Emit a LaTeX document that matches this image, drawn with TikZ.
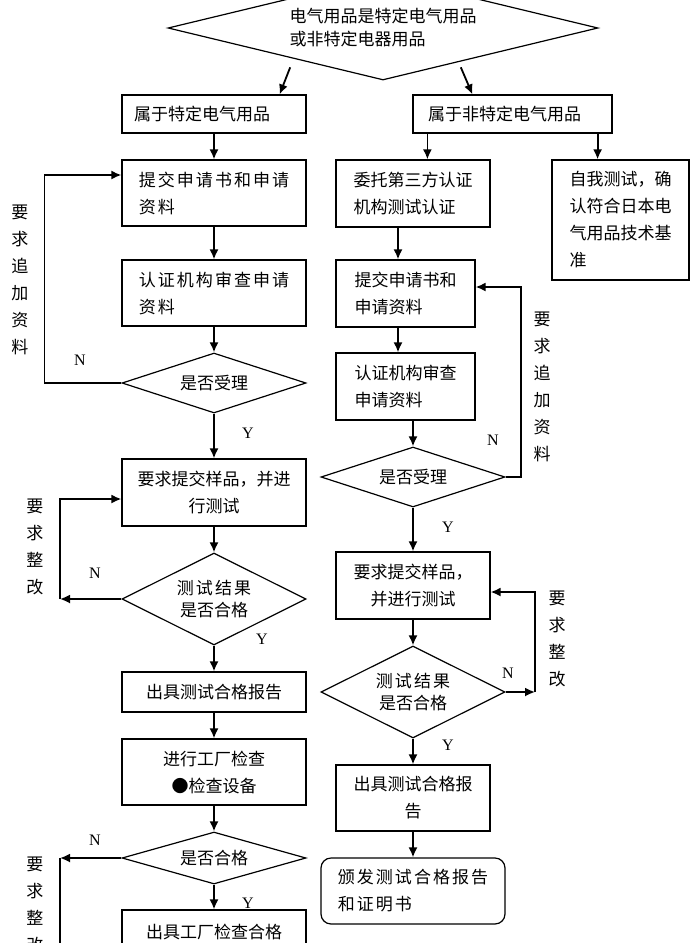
\documentclass[tikz,border=0pt]{standalone}
\usepackage{fontspec}
\setmainfont{Liberation Serif}
\newfontfamily\cjk{Noto Sans CJK SC}
\newfontfamily\cjksp[LetterSpace=12]{Noto Sans CJK SC}
\usetikzlibrary{shapes.geometric,arrows.meta}

\begin{document}
\begin{tikzpicture}[x=1pt,y=-1pt,
    box/.style={draw,line width=1.2pt,minimum width=184pt,minimum height=66pt,inner sep=0pt,align=left,font=\cjk\fontsize{17}{27}\selectfont},
    widebox/.style={box,font=\cjksp\fontsize{17}{27}\selectfont},
    decision/.style={draw,diamond,line width=1.2pt,inner sep=0pt,aspect=2,minimum width=184pt,align=center,font=\cjk\fontsize{17}{22}\selectfont},
    arr/.style={line width=1.8pt,-{Latex[length=10pt,width=9pt]}},
    fb/.style={line width=1.8pt},
    yn/.style={font=\fontsize{16}{16}\selectfont},
    vlab/.style={align=center,inner sep=0pt,font=\cjk\fontsize{17}{27}\selectfont}]
\useasboundingbox (0,0) rectangle (700,943);
\clip (0,0) rectangle (700,943);

% top decision
\node[decision,aspect=4,minimum width=430pt,minimum height=104pt,align=left,font=\cjk\fontsize{17}{23}\selectfont] (start) at (383,28) {电气用品是特定电气用品\\或非特定电器用品};
\node[box,minimum height=38pt,text width=160pt,inner xsep=12pt] (teding) at (214,114) {属于特定电气用品};
\node[box,minimum height=38pt,text width=169pt,inner xsep=15pt] (feiteding) at (512.5,114) {属于非特定电气用品};

% left column
\node[widebox] (shenqing1) at (214,193) {提交申请书和申请\\资料};
\node[widebox] (shencha1) at (214,293) {认证机构审查申请\\资料};
\node[decision,aspect=3,minimum height=60pt] (shouli1) at (214,383) {是否受理};
\node[box,minimum height=67pt,align=center] (yangpin1) at (214,492.5) {要求提交样品，并进\\行测试};
\node[decision,minimum height=92pt] (ceshi1) at (214,599) {{\cjksp 测试结果}\\是否合格};
\node[box,minimum height=40pt] (baogao1) at (214,692) {出具测试合格报告};
\node[box,align=center] (gongchang) at (214,772) {进行工厂检查\\●检查设备};
\node[decision,aspect=3,minimum height=52pt] (hege) at (214,858) {是否合格};
\node[box,minimum height=44pt] (gcbaogao) at (214,932) {出具工厂检查合格};

% right column
\node[box,minimum width=154pt,minimum height=67pt] (weituo) at (413,193.5) {委托第三方认证\\机构测试认证};
\node[box,minimum width=139pt,minimum height=67pt] (shenqing2) at (405.5,293.5) {提交申请书和\\申请资料};
\node[box,minimum width=139pt,minimum height=67pt] (shencha2) at (405.5,386.5) {认证机构审查\\申请资料};
\node[decision,aspect=3,minimum height=60pt] (shouli2) at (413,477) {是否受理};
\node[box,minimum width=137pt,minimum height=120pt] (ziwo) at (620.5,220) {自我测试，确\\认符合日本电\\气用品技术基\\准};
\node[box,minimum width=154pt,minimum height=67pt,align=center] (yangpin2) at (413,585.5) {要求提交样品，\\并进行测试};
\node[decision,minimum height=92pt] (ceshi2) at (413,692) {{\cjksp 测试结果}\\是否合格};
\node[box,minimum width=154pt,align=center] (baogao2) at (413,798) {出具测试合格报\\告};
\node[widebox,rounded corners=10pt] (zhengshu) at (413,891) {颁发测试合格报告\\和证明书};

% labels
\node[yn] (n1) at (80,360) {N};
\node[yn] (y1) at (248,433) {Y};
\node[yn] (n2) at (95,573) {N};
\node[yn] (y2) at (262,639) {Y};
\node[yn] (n3) at (95,840) {N};
\node[yn] (y3) at (248,903) {Y};
\node[yn] (n4) at (493,440) {N};
\node[yn] (y4) at (448,527) {Y};
\node[yn] (n5) at (508,673) {N};
\node[yn] (y5) at (448,745) {Y};
\node[vlab] (zhuijia1) at (20,280) {要\\求\\追\\加\\资\\料};
\node[vlab] (zhuijia2) at (542,387) {要\\求\\追\\加\\资\\料};
\node[vlab] (zhenggai1) at (35,547) {要\\求\\整\\改};
\node[vlab] (zhenggai2) at (557,639) {要\\求\\整\\改};
\node[vlab] (zhenggai3) at (35,905) {要\\求\\整\\改};

% connectors
\draw[arr] ([xshift=15pt,yshift=-13pt]start.south west) -- ([xshift=-27pt]teding.north east);
\draw[arr] ([xshift=-30pt,yshift=-13pt]start.south east) -- ([xshift=60pt]feiteding.north west);
\coordinate (f1) at ([xshift=15pt]feiteding.south west);
\coordinate (f2) at ([xshift=-15pt]feiteding.south east);
\draw[arr] (f1) -- (f1 |- weituo.north);
\draw[arr] (f2) -- (f2 |- ziwo.north);

\draw[arr] (teding) -- (shenqing1);
\draw[arr] (shenqing1) -- (shencha1);
\draw[arr] (shencha1) -- (shouli1);
\draw[arr] (shouli1) -- (yangpin1);
\draw[arr] (shouli1.west) -- ++(-77,0) |- ([yshift=18pt]shenqing1.west);
\draw[arr] (yangpin1) -- (ceshi1);
\coordinate (l1) at (60,599);
\draw[arr] (ceshi1.west) -- (l1);
\draw[arr] (l1) |- ([yshift=-6.5pt]yangpin1.west);
\draw[arr] (ceshi1) -- (baogao1);
\draw[arr] (baogao1) -- (gongchang);
\draw[arr] (gongchang) -- (hege);
\coordinate (l2) at (60,858);
\coordinate (l3) at (60,960);
\draw[arr] (hege.west) -- (l2);
\draw[fb] (l2) -- (l3);
\draw[arr] (hege) -- (gcbaogao);

\coordinate (r1) at ([xshift=-15pt]weituo.south);
\coordinate (r2) at ([xshift=-7.5pt]shenqing2.south);
\draw[arr] (r1) -- (r1 |- shenqing2.north);
\draw[arr] (r2) -- (r2 |- shencha2.north);
\draw[arr] (shouli2.north |- shencha2.south) -- (shouli2.north);
\draw[arr] (shouli2.east) -- ++(15,0) |- ([yshift=6.5pt]shenqing2.east);
\draw[arr] (shouli2) -- (yangpin2);
\draw[arr] (yangpin2) -- (ceshi2);
\coordinate (r3) at (535,692);
\draw[arr] (ceshi2.east) -- (r3);
\draw[arr] (r3) |- ([yshift=-6.5pt]yangpin2.east);
\draw[arr] (ceshi2) -- (baogao2);
\draw[arr] (baogao2) -- (zhengshu);
\end{tikzpicture}
\end{document}
